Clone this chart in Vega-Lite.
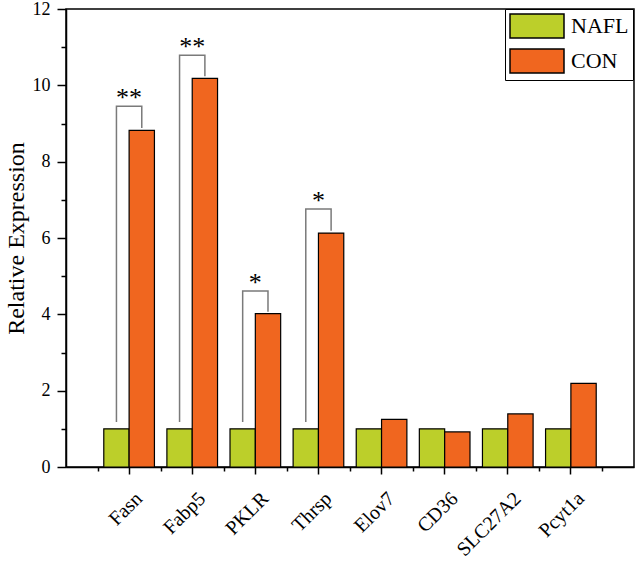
{
  "$schema": "https://vega.github.io/schema/vega-lite/v6.json",
  "autosize": "none",
  "padding": {"left": 66, "top": 9, "right": 4, "bottom": 95},
  "width": 568,
  "height": 458,
  "datasets": {
    "bars": [
      {"gene": "Fasn", "group": "NAFL", "value": 1.0},
      {"gene": "Fasn", "group": "CON", "value": 8.82},
      {"gene": "Fabp5", "group": "NAFL", "value": 1.0},
      {"gene": "Fabp5", "group": "CON", "value": 10.18},
      {"gene": "PKLR", "group": "NAFL", "value": 1.0},
      {"gene": "PKLR", "group": "CON", "value": 4.02},
      {"gene": "Thrsp", "group": "NAFL", "value": 1.0},
      {"gene": "Thrsp", "group": "CON", "value": 6.13},
      {"gene": "Elov7", "group": "NAFL", "value": 1.0},
      {"gene": "Elov7", "group": "CON", "value": 1.25},
      {"gene": "CD36", "group": "NAFL", "value": 1.0},
      {"gene": "CD36", "group": "CON", "value": 0.92},
      {"gene": "SLC27A2", "group": "NAFL", "value": 1.0},
      {"gene": "SLC27A2", "group": "CON", "value": 1.39},
      {"gene": "Pcyt1a", "group": "NAFL", "value": 1.0},
      {"gene": "Pcyt1a", "group": "CON", "value": 2.19}
    ],
    "brackets": [
      {"gene": "Fasn", "group": "NAFL", "y": 1.18, "ord": 1},
      {"gene": "Fasn", "group": "NAFL", "y": 9.45, "ord": 2},
      {"gene": "Fasn", "group": "CON", "y": 9.45, "ord": 3},
      {"gene": "Fasn", "group": "CON", "y": 8.88, "ord": 4},
      {"gene": "Fabp5", "group": "NAFL", "y": 1.18, "ord": 1},
      {"gene": "Fabp5", "group": "NAFL", "y": 10.79, "ord": 2},
      {"gene": "Fabp5", "group": "CON", "y": 10.79, "ord": 3},
      {"gene": "Fabp5", "group": "CON", "y": 10.24, "ord": 4},
      {"gene": "PKLR", "group": "NAFL", "y": 1.18, "ord": 1},
      {"gene": "PKLR", "group": "NAFL", "y": 4.61, "ord": 2},
      {"gene": "PKLR", "group": "CON", "y": 4.61, "ord": 3},
      {"gene": "PKLR", "group": "CON", "y": 4.07, "ord": 4},
      {"gene": "Thrsp", "group": "NAFL", "y": 1.18, "ord": 1},
      {"gene": "Thrsp", "group": "NAFL", "y": 6.76, "ord": 2},
      {"gene": "Thrsp", "group": "CON", "y": 6.76, "ord": 3},
      {"gene": "Thrsp", "group": "CON", "y": 6.19, "ord": 4}
    ],
    "stars": [
      {"gene": "Fasn", "y": 9.45, "label": "**"},
      {"gene": "Fabp5", "y": 10.79, "label": "**"},
      {"gene": "PKLR", "y": 4.61, "label": "*"},
      {"gene": "Thrsp", "y": 6.76, "label": "*"}
    ]
  },
  "config": {
    "font": "Liberation Serif",
    "view": {"stroke": "black", "strokeWidth": 1.5},
    "axis": {"grid": false, "labelColor": "black", "titleColor": "black", "domainColor": "black", "tickColor": "black", "domainWidth": 1.5, "tickWidth": 1.5}
  },
  "layer": [
    {
      "data": {"name": "bars"},
      "mark": {"type": "bar", "stroke": "black", "strokeWidth": 1.2},
      "encoding": {
        "x": {
          "field": "gene", "type": "nominal",
          "sort": ["Fasn", "Fabp5", "PKLR", "Thrsp", "Elov7", "CD36", "SLC27A2", "Pcyt1a"],
          "scale": {"paddingInner": 0, "paddingOuter": 0.5},
          "axis": {"orient": "bottom", "title": null, "labelAngle": -45, "labelAlign": "right", "labelBaseline": "top", "labelFontSize": 20, "labelPadding": 14, "labelOffset": 3, "tickSize": 7, "labelFont": "Liberation Serif", "labelBound": false}
        },
        "xOffset": {
          "field": "group", "type": "nominal", "sort": ["NAFL", "CON"],
          "scale": {"paddingInner": 0, "paddingOuter": 0.246}
        },
        "y": {
          "field": "value", "type": "quantitative",
          "scale": {"domain": [0, 12], "nice": false},
          "axis": {"orient": "left", "values": [0, 2, 4, 6, 8, 10, 12], "tickSize": 9, "labelFontSize": 18, "labelPadding": 7, "title": "Relative Expression", "titleFontSize": 24, "titleFontWeight": "normal", "titleAngle": -90, "titleX": -43, "titleY": 229, "titleAlign": "center", "titleBaseline": "alphabetic"}
        },
        "color": {
          "field": "group", "type": "nominal",
          "scale": {"domain": ["NAFL", "CON"], "range": ["#bccf2a", "#f0661f"]},
          "legend": {
            "title": null, "orient": "none", "legendX": 439, "legendY": 0,
            "strokeColor": "black", "padding": 4, "fillColor": "white",
            "symbolType": "M-1,-1H3.5V1H-1Z", "symbolSize": 576,
            "symbolStrokeColor": "black", "symbolStrokeWidth": 1.5, "symbolOpacity": 1,
            "labelFontSize": 22, "labelColor": "black", "labelOffset": 36, "rowPadding": 5
          }
        }
      }
    },
    {
      "data": {"name": "brackets"},
      "mark": {"type": "line", "color": "#7a7a7a", "strokeWidth": 1.5},
      "encoding": {
        "x": {
          "field": "gene", "type": "nominal",
          "sort": ["Fasn", "Fabp5", "PKLR", "Thrsp", "Elov7", "CD36", "SLC27A2", "Pcyt1a"],
          "axis": {"orient": "bottom", "title": null, "labels": false, "domain": false, "tickBand": "extent", "tickSize": 4}
        },
        "xOffset": {"field": "group", "type": "nominal", "sort": ["NAFL", "CON"]},
        "y": {
          "field": "y", "type": "quantitative",
          "axis": {"orient": "left", "values": [1, 3, 5, 7, 9, 11], "labels": false, "domain": false, "tickSize": 5, "title": null}
        },
        "detail": {"field": "gene"},
        "order": {"field": "ord"}
      }
    },
    {
      "data": {"name": "stars"},
      "mark": {"type": "text", "fontSize": 26, "baseline": "alphabetic", "align": "center", "color": "black", "dy": 0},
      "encoding": {
        "x": {
          "field": "gene", "type": "nominal",
          "sort": ["Fasn", "Fabp5", "PKLR", "Thrsp", "Elov7", "CD36", "SLC27A2", "Pcyt1a"],
          "axis": null
        },
        "y": {"field": "y", "type": "quantitative", "axis": null},
        "text": {"field": "label"}
      }
    }
  ],
  "resolve": {"axis": {"x": "independent", "y": "independent"}}
}
